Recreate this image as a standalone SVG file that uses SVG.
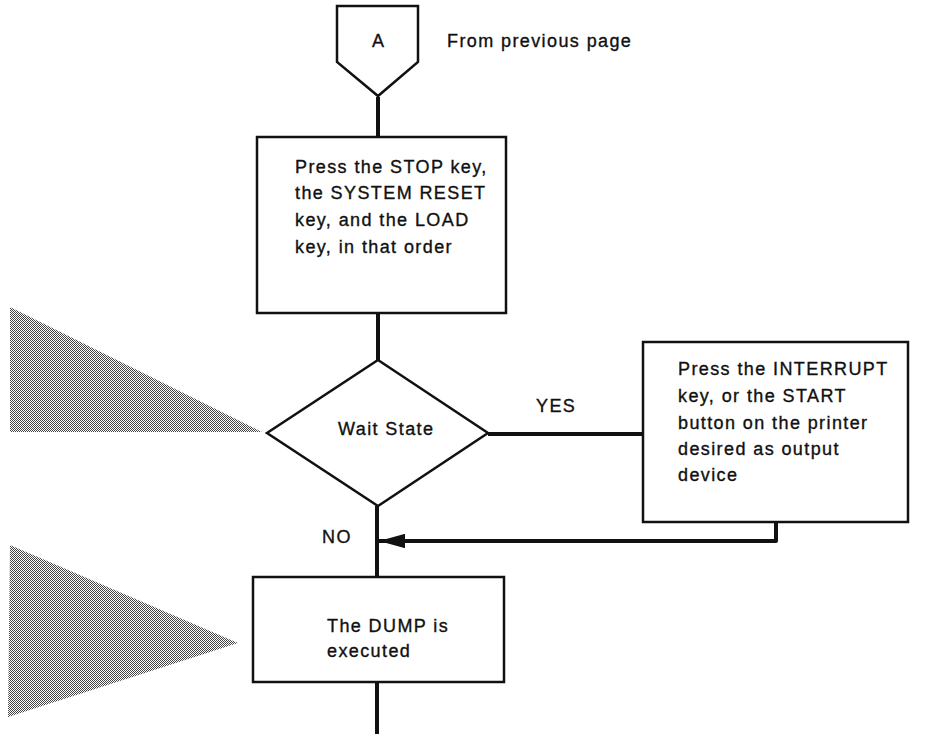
<svg xmlns="http://www.w3.org/2000/svg" width="946" height="734" viewBox="0 0 946 734">
  <style>
    .box { fill: #fff; stroke: #111; stroke-width: 2.5; }
    .flow { fill: none; stroke: #111; stroke-width: 4; stroke-linejoin: round; }
    .lbl { font-family: "Liberation Sans", Arial, sans-serif; font-size: 18px; fill: #111; stroke: #111; stroke-width: 0.35; letter-spacing: 1.4px; }
    .shade { fill: url(#halftone); }
  </style>
  <defs>
    <!-- fine screen-print dot pattern -->
    <pattern id="halftone" width="2" height="2" patternUnits="userSpaceOnUse">
      <rect width="2" height="2" fill="#fff"/>
      <rect x="0" y="0" width="1" height="1" fill="#444"/>
      <rect x="1" y="1" width="1" height="1" fill="#444"/>
    </pattern>
    <marker id="arrow" markerWidth="6.5" markerHeight="3.6" refX="6.5" refY="1.8" orient="auto" markerUnits="strokeWidth">
      <path d="M0,0 L6.5,1.8 L0,3.6 Z" fill="#111"/>
    </marker>
  </defs>

  <!-- shaded pointers at the left margin -->
  <g id="pointers">
    <polygon class="shade" points="10,307 262,432 10,432"/>
    <polygon class="shade" points="10,545 238,643 8,717"/>
  </g>

  <!-- connectors -->
  <g id="connectors">
    <line class="flow" x1="378" y1="97" x2="378" y2="137"/>
    <line class="flow" x1="378" y1="313" x2="378" y2="360"/>
    <line class="flow" x1="488" y1="434" x2="643" y2="434"/>
    <line class="flow" x1="377" y1="506" x2="377" y2="577"/>
    <line class="flow" x1="377" y1="682" x2="377" y2="734"/>
    <path class="flow" d="M776,522 L776,541 L379,541" marker-end="url(#arrow)"/>
    <text class="lbl" x="536" y="412">YES</text>
    <text class="lbl" x="322" y="543">NO</text>
  </g>

  <!-- off-page connector -->
  <g id="connector-a">
    <polygon class="box" points="337,6 418,6 418,62 378,96 337,62"/>
    <text class="lbl" x="372" y="47">A</text>
    <text class="lbl" x="447" y="47">From previous page</text>
  </g>

  <g id="reset-step">
    <rect class="box" x="257" y="137" width="249" height="176"/>
    <text class="lbl" x="295" y="173">Press the STOP key,</text>
    <text class="lbl" x="295" y="199">the SYSTEM RESET</text>
    <text class="lbl" x="295" y="226">key, and the LOAD</text>
    <text class="lbl" x="295" y="253">key, in that order</text>
  </g>

  <g id="wait-state">
    <polygon class="box" points="378,360 488,433 378,506 267,433"/>
    <text class="lbl" x="338" y="435">Wait State</text>
  </g>

  <g id="interrupt-step">
    <rect class="box" x="643" y="342" width="265" height="180"/>
    <text class="lbl" x="678" y="375">Press the INTERRUPT</text>
    <text class="lbl" x="678" y="402">key, or the START</text>
    <text class="lbl" x="678" y="429">button on the printer</text>
    <text class="lbl" x="678" y="455">desired as output</text>
    <text class="lbl" x="678" y="481">device</text>
  </g>

  <g id="dump-step">
    <rect class="box" x="253" y="577" width="251" height="105"/>
    <text class="lbl" x="327" y="632">The DUMP is</text>
    <text class="lbl" x="327" y="657">executed</text>
  </g>
</svg>
